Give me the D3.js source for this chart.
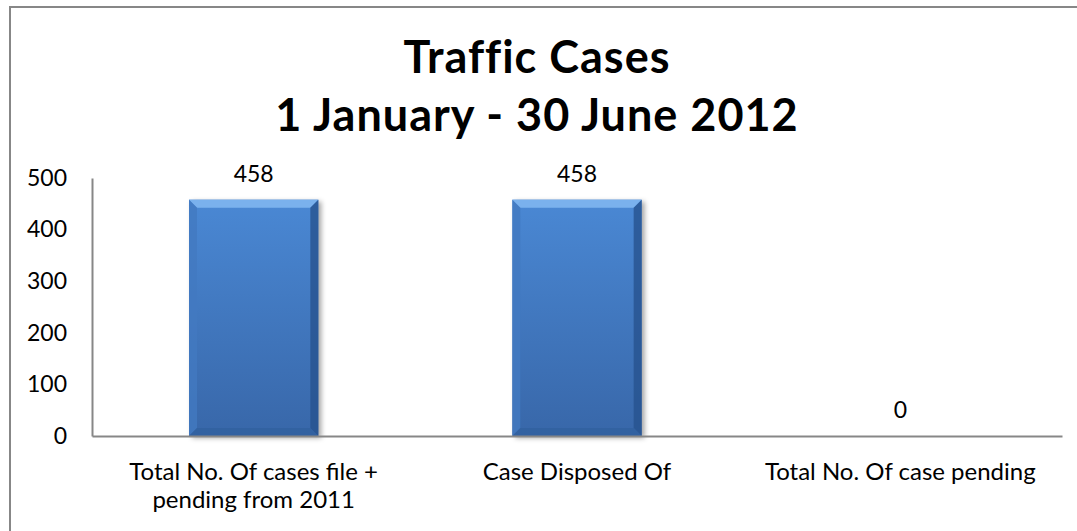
<!DOCTYPE html>
<html lang="en">
<head>
    <meta charset="UTF-8" />
    <title>Traffic Cases</title>
    <style>
        body, html {
            margin: 0;
            padding: 0;
            background-color: white;
        }
        #svg {
            display: block;
            font-family: Lato, "Open Sans", sans-serif;
        }
    </style>
</head>
<body>
    <svg id="svg" width="1077" height="531"></svg>
    <script src="https://cdn.jsdelivr.net/npm/d3@7"></script>
    <script>
        // Chart data
        const categories = [
            ["Total No. Of cases file +", "pending from 2011"],
            ["Case Disposed Of"],
            ["Total No. Of case pending"]
        ];
        const values = [458, 458, 0];
        const yTicks = [0, 100, 200, 300, 400, 500];
        const titleLines = ["Traffic Cases", "1 January - 30 June 2012"];

        const svg = d3.select("#svg");

        // outer chart border (only left and top edges are visible in the frame)
        svg.append("rect")
            .attr("x", 10)
            .attr("y", 7)
            .attr("width", 1200)
            .attr("height", 700)
            .attr("fill", "white")
            .attr("stroke", "#878787")
            .attr("stroke-width", 2);

        // title
        svg.append("g")
            .selectAll("text")
            .data(titleLines)
            .enter()
            .append("text")
            .attr("x", 537)
            .attr("y", (d, i) => 73 + i * 58)
            .attr("text-anchor", "middle")
            .attr("font-size", 45)
            .attr("letter-spacing", 1)
            .attr("font-weight", "bold")
            .attr("fill", "black")
            .text(d => d);

        const keys = categories.map((c, i) => i);

        const xScale = d3.scaleBand()
            .domain(keys)
            .range([92, 1062])
            .paddingInner(0.6)
            .paddingOuter(0.3);

        const yScale = d3.scaleLinear()
            .domain([0, 500])
            .range([436, 178]);

        // gradients for the bevelled bars
        const defs = svg.append("defs");
        const grad = defs.append("linearGradient")
            .attr("id", "barFill")
            .attr("x1", 0).attr("y1", 0).attr("x2", 0).attr("y2", 1);
        grad.append("stop").attr("offset", "0%").attr("stop-color", "#4a88d4");
        grad.append("stop").attr("offset", "100%").attr("stop-color", "#3867a9");

        const shadow = defs.append("filter")
            .attr("id", "shadow")
            .attr("x", "-10%").attr("y", "-10%")
            .attr("width", "130%").attr("height", "130%");
        shadow.append("feGaussianBlur").attr("stdDeviation", 2.5);

        // y-axis
        const yAxis = svg.append("g")
            .attr("transform", "translate(92,0)")
            .call(d3.axisLeft(yScale).tickValues(yTicks).tickSize(0).tickPadding(25));
        yAxis.select(".domain").attr("stroke", "#878787").attr("stroke-width", 2);
        yAxis.selectAll("text")
            .attr("font-family", "Lato, sans-serif")
            .attr("font-size", 23)
            .attr("fill", "black");

        // bars
        const bev = 8;
        const bars = svg.append("g")
            .selectAll("g")
            .data(values.map((v, i) => ({ v, i })))
            .enter()
            .append("g")
            .filter(d => d.v > 0);

        bars.append("rect")
            .attr("x", d => xScale(d.i) + 3)
            .attr("y", d => yScale(d.v) + 2)
            .attr("width", xScale.bandwidth())
            .attr("height", d => yScale(0) - yScale(d.v))
            .attr("fill", "rgba(0,0,0,0.35)")
            .attr("filter", "url(#shadow)");

        bars.append("rect")
            .attr("x", d => xScale(d.i))
            .attr("y", d => yScale(d.v))
            .attr("width", xScale.bandwidth())
            .attr("height", d => yScale(0) - yScale(d.v))
            .attr("fill", "url(#barFill)");

        const edge = (d, side) => {
            const x0 = xScale(d.i), x1 = x0 + xScale.bandwidth();
            const y0 = yScale(d.v), y1 = yScale(0);
            if (side === "top") return [[x0, y0], [x1, y0], [x1 - bev, y0 + bev], [x0 + bev, y0 + bev]];
            if (side === "left") return [[x0, y0], [x0 + bev, y0 + bev], [x0 + bev, y1 - bev], [x0, y1]];
            if (side === "right") return [[x1, y0], [x1 - bev, y0 + bev], [x1 - bev, y1 - bev], [x1, y1]];
            return [[x0, y1], [x0 + bev, y1 - bev], [x1 - bev, y1 - bev], [x1, y1]];
        };
        const edgeFill = { top: "#7fb6ef", left: "#4279c0", right: "#27528e", bottom: "#31609f" };
        ["top", "left", "right", "bottom"].forEach(side => {
            bars.append("path")
                .attr("d", d => "M" + edge(d, side).join("L") + "Z")
                .attr("fill", edgeFill[side])
                .attr("opacity", side === "top" ? 0.9 : 0.8);
        });

        // x-axis
        const xAxis = svg.append("g")
            .attr("transform", "translate(0,436)")
            .call(d3.axisBottom(xScale).tickSize(0).tickFormat(""));
        xAxis.select(".domain").attr("stroke", "#878787").attr("stroke-width", 2);

        // wrapped category labels
        svg.append("g")
            .selectAll("text")
            .data(keys)
            .enter()
            .append("text")
            .attr("x", d => xScale(d) + xScale.bandwidth() / 2)
            .attr("y", 480)
            .attr("text-anchor", "middle")
            .attr("font-size", 24)
            .attr("fill", "black")
            .each(function (d) {
                const t = d3.select(this);
                categories[d].forEach((line, j) => {
                    t.append("tspan")
                        .attr("x", xScale(d) + xScale.bandwidth() / 2)
                        .attr("dy", j === 0 ? 0 : 28)
                        .text(line);
                });
            });

        // data labels
        svg.append("g")
            .selectAll("text")
            .data(values)
            .enter()
            .append("text")
            .attr("x", (d, i) => xScale(i) + xScale.bandwidth() / 2)
            .attr("y", d => yScale(d) - 18)
            .attr("text-anchor", "middle")
            .attr("font-size", 23)
            .attr("fill", "black")
            .text(d => d);
    </script>
</body>
</html>
